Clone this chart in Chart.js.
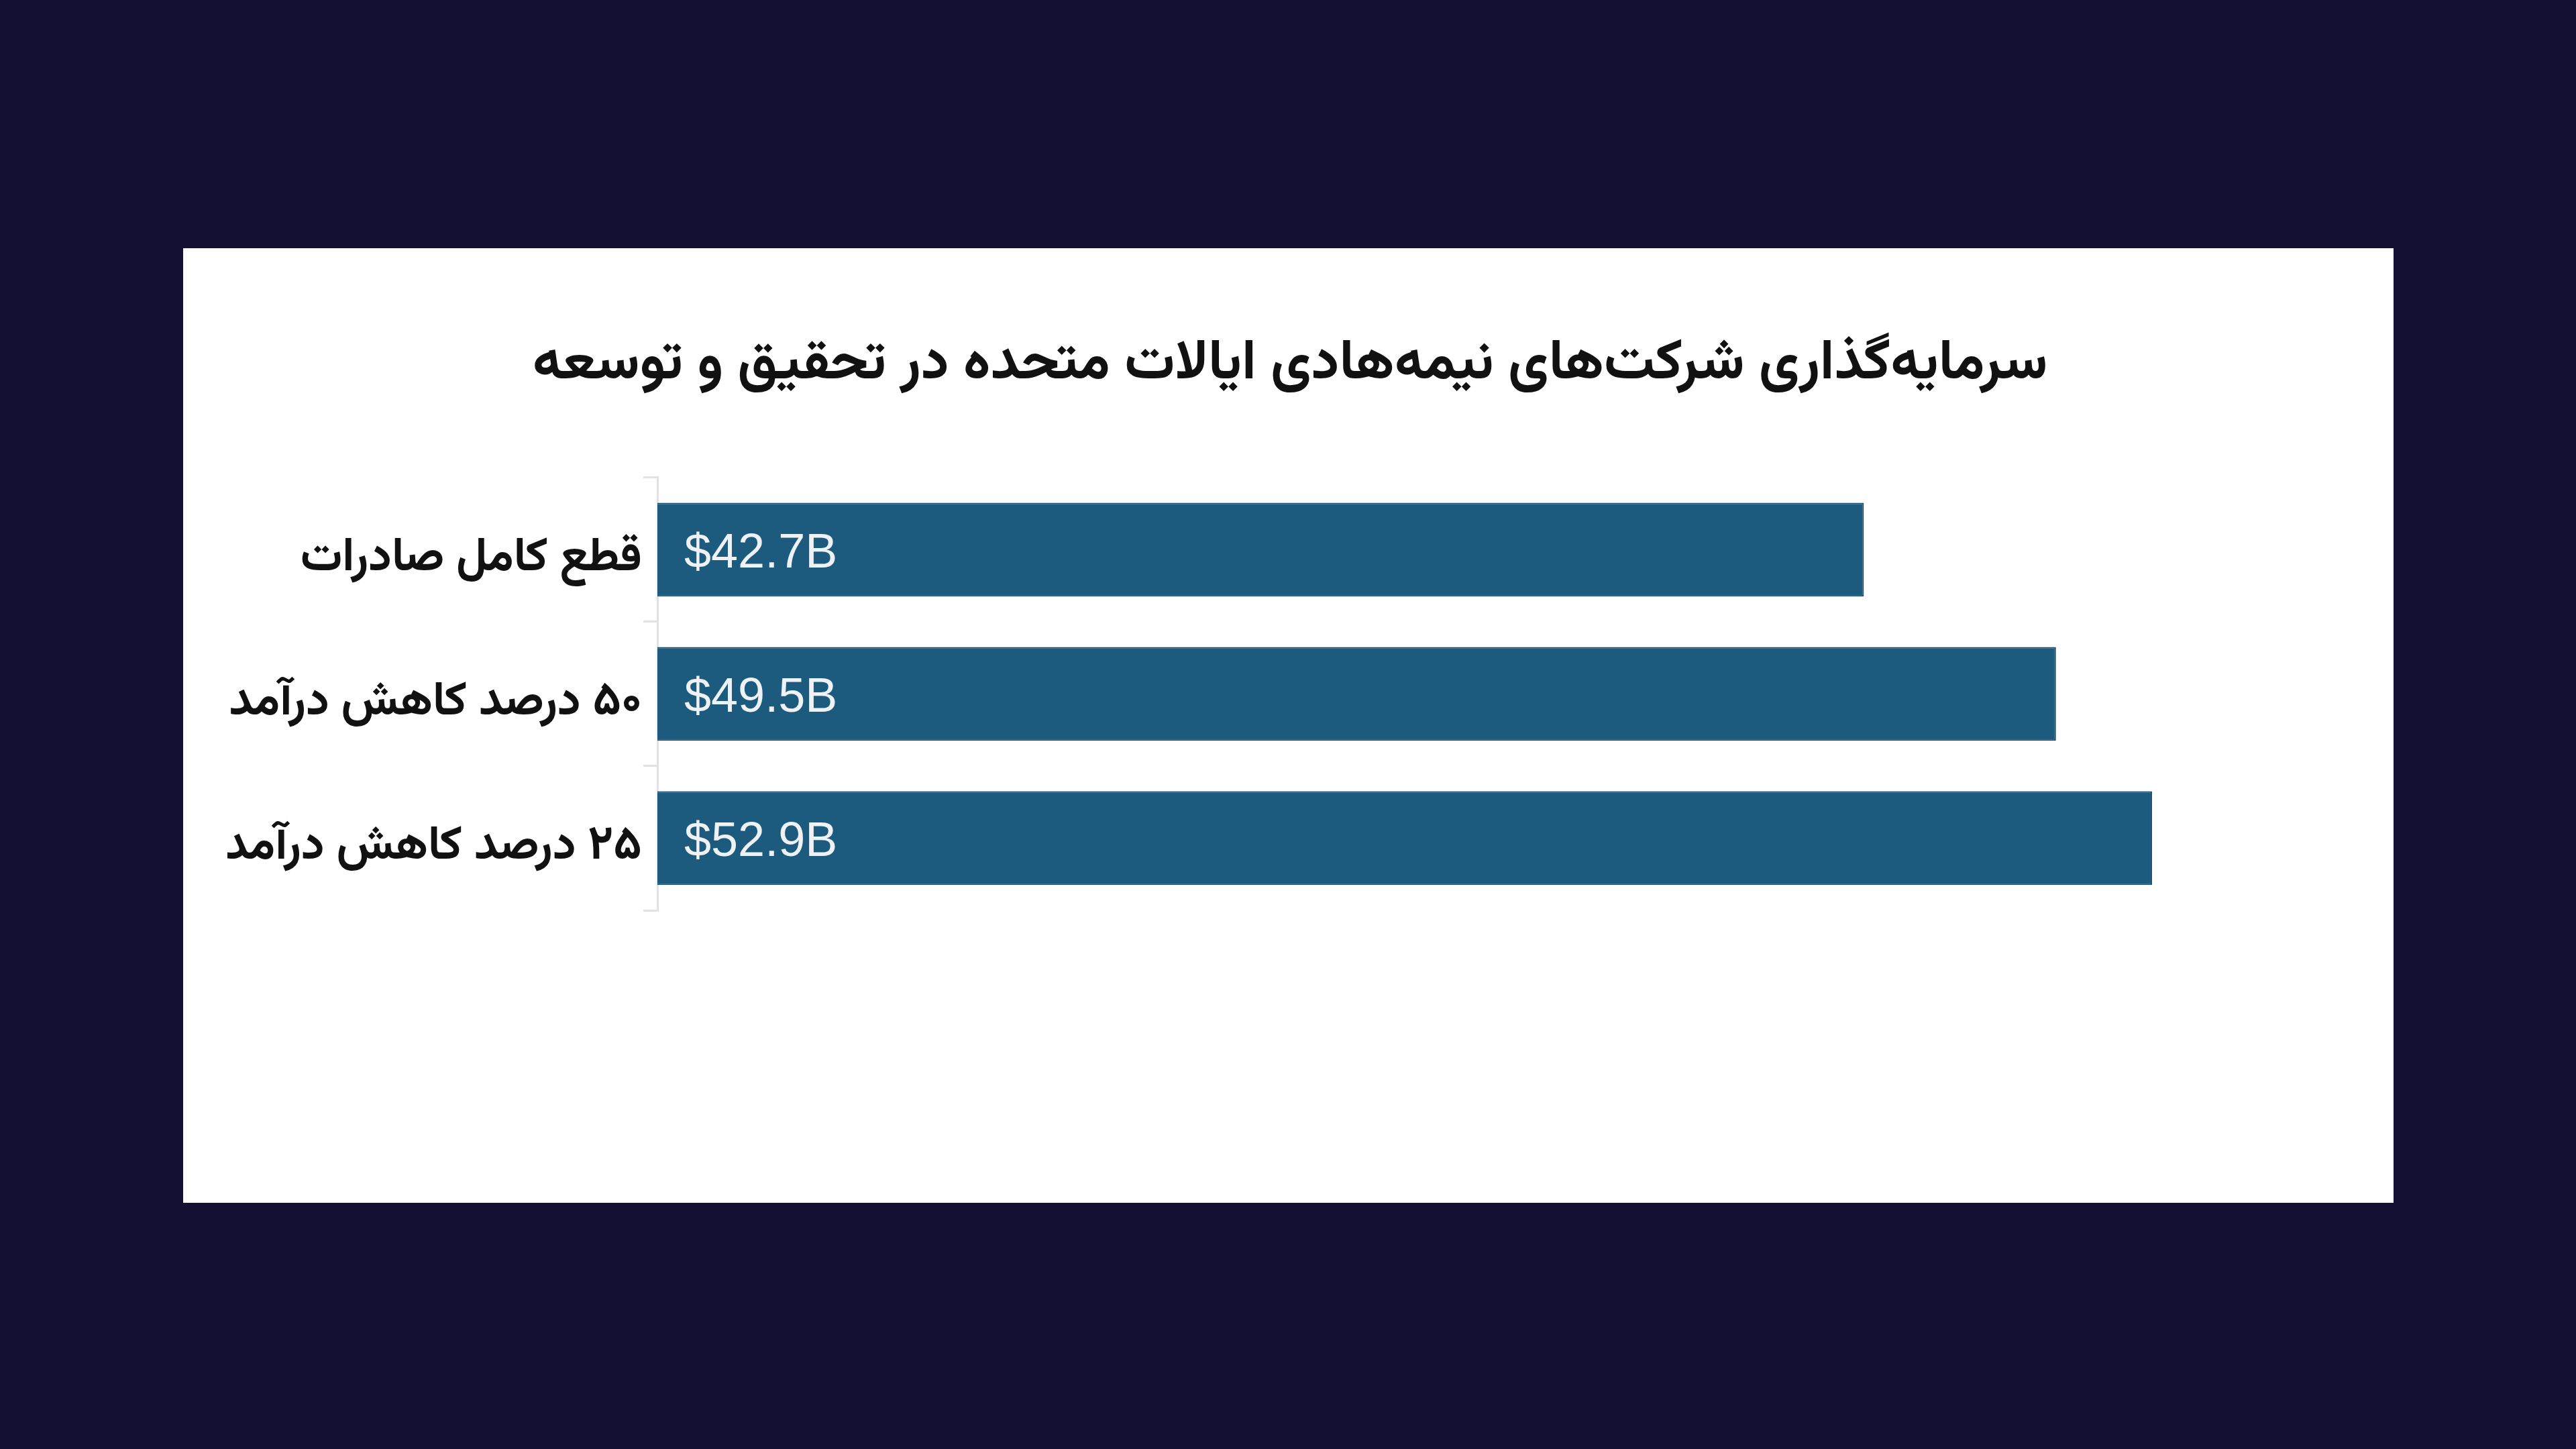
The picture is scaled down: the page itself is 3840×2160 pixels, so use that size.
<!DOCTYPE html>
<html lang="fa">
<head>
<meta charset="utf-8">
<script src="https://cdn.jsdelivr.net/npm/chart.js@4.4.1/dist/chart.umd.min.js"></script>
<style>
  html, body { margin: 0; padding: 0; background: #141033; width: 3840px; height: 2160px; overflow: hidden; }
  #panel { position: absolute; left: 273px; top: 370px; width: 3295px; height: 1423px; background: #ffffff; }
  #chart { direction: rtl; }
</style>
</head>
<body>
<div id="panel"><canvas id="chart" dir="rtl"></canvas></div>
<script>
const titleText = 'سرمایه‌گذاری شرکت‌های نیمه‌هادی ایالات متحده در تحقیق و توسعه';
const categories = ['قطع کامل صادرات', '۵۰ درصد کاهش درآمد', '۲۵ درصد کاهش درآمد'];
const investment = [42.7, 49.5, 52.9];
const xMin = 0;
const xMax = 60;

const persianFont = "Vazirmatn, 'Noto Sans Arabic', 'DejaVu Sans', sans-serif";

const valueLabels = {
  id: 'valueLabels',
  afterDatasetsDraw(chart) {
    const ctx = chart.ctx;
    const meta = chart.getDatasetMeta(0);
    ctx.save();
    ctx.direction = 'ltr';
    ctx.font = "72px 'Liberation Sans', Arial, sans-serif";
    ctx.fillStyle = '#eef2f5';
    ctx.textAlign = 'left';
    ctx.textBaseline = 'middle';
    meta.data.forEach((bar, i) => {
      const v = chart.data.datasets[0].data[i];
      ctx.fillText('$' + v.toFixed(1) + 'B', bar.base + 40, bar.y + 7);
    });
    ctx.restore();
  }
};

new Chart(document.getElementById('chart'), {
  type: 'bar',
  data: {
    labels: categories,
    datasets: [{
      data: investment,
      backgroundColor: '#1d5b7e',
      borderColor: '#164d6d',
      borderWidth: 2,
      borderSkipped: 'start',
      categoryPercentage: 1.0,
      barPercentage: 0.65
    }]
  },
  options: {
    indexAxis: 'y',
    responsive: true,
    maintainAspectRatio: false,
    animation: false,
    layout: { padding: { left: 66, right: 61, top: 0, bottom: 436 } },
    plugins: {
      legend: { display: false },
      tooltip: { enabled: false },
      title: {
        display: true,
        text: titleText,
        color: '#111111',
        font: { family: persianFont, size: 84, weight: 'bold' },
        padding: { top: 130, bottom: 111 }
      }
    },
    scales: {
      x: { display: false, min: xMin, max: xMax },
      y: {
        afterFit(scale) { scale.width = 641; },
        grid: { drawOnChartArea: false, drawTicks: true, tickLength: 21, color: '#e2e2e2', lineWidth: 3, offset: true },
        border: { display: true, color: '#e2e2e2', width: 3 },
        ticks: {
          color: '#111111',
          padding: 2,
          labelOffset: 20,
          font: { family: persianFont, size: 70, weight: 'bold' }
        }
      }
    }
  },
  plugins: [valueLabels]
});
</script>
</body>
</html>
